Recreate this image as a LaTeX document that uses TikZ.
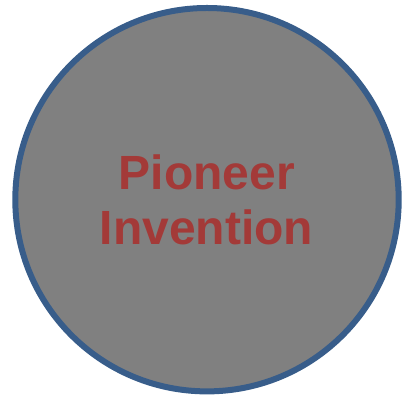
\documentclass[tikz,border=0pt]{standalone}
\usepackage{fontspec}
\setmainfont{Liberation Sans}
\definecolor{fillgray}{RGB}{128,128,128}
\definecolor{ringblue}{RGB}{56,93,138}
\definecolor{textred}{RGB}{163,58,56}
\tikzset{
  ring/.style={draw=ringblue, line width=6pt, fill=fillgray},
  label/.style={text=textred, font=\fontsize{48pt}{54pt}\selectfont\bfseries, anchor=base, inner sep=0pt}
}
\begin{document}
\begin{tikzpicture}[x=1pt,y=1pt]
\useasboundingbox (0,0) rectangle (403,403);
\coordinate (c) at (207,203.3);
\draw[ring] (c) circle[radius=191.7];
\node[label] (l1) at (207,213) {Pioneer};
\node[label] (l2) at (206.5,158.5) {Invention};
\end{tikzpicture}
\end{document}
